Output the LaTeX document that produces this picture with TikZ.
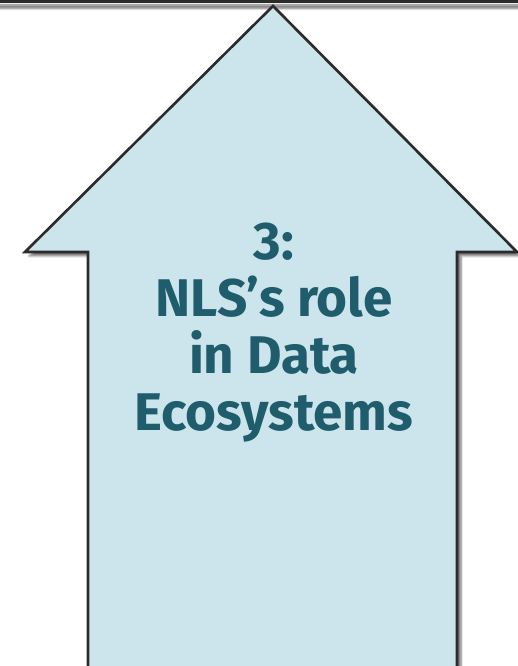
\documentclass[tikz,border=0pt]{standalone}
\usepackage{fontspec}
\setmainfont{Fira Sans}
\usetikzlibrary{shadows.blur}
\definecolor{arrowfill}{HTML}{CCE4EC}
\definecolor{labeltext}{HTML}{1F5C6C}
\definecolor{edgegray}{HTML}{2B2B2B}

\begin{document}
\begin{tikzpicture}[x=1pt, y=1pt,
		bigarrow/.style={draw=edgegray, line width=2.6pt, fill=arrowfill, line join=miter,
		blur shadow={shadow xshift=4pt, shadow yshift=-4pt, shadow blur steps=6, shadow opacity=55}},
		toprule/.style={draw=none, fill=edgegray,
		blur shadow={shadow xshift=0pt, shadow yshift=-5pt, shadow blur steps=6, shadow opacity=55}},
		steplabel/.style={text=labeltext, font=\bfseries\fontsize{53}{57}\selectfont, align=center}
		]
		\useasboundingbox (0,0) rectangle (518,666);
		
		% band at the top edge
		\fill[toprule] (-5,662.5) rectangle (523,666);
		
		% the up arrow
		\draw[bigarrow] (273,660) -- (517,414) -- (457,414) -- (457,-20)
		-- (88,-20) -- (88,414) -- (25,414) -- cycle;
		
		\node[steplabel](L3) at (274,333){3:\\NLS’s role\\in Data\\Ecosystems};
	\end{tikzpicture}
\end{document}
